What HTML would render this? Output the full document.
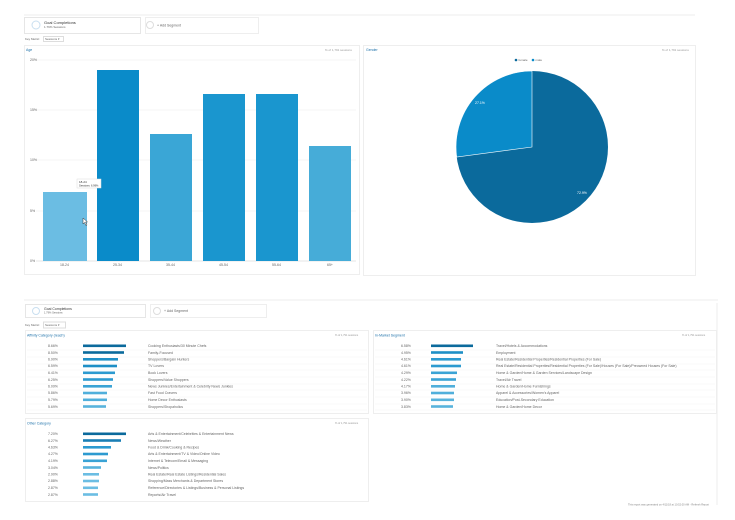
<!DOCTYPE html>
<html><head><meta charset="utf-8"><style>
html,body{margin:0;padding:0;background:#fff;width:735px;height:520px;overflow:hidden}
svg{display:block;font-family:"Liberation Sans",sans-serif}
text{fill:#666;font-size:3.5px}
</style></head><body>
<svg width="735" height="520" viewBox="0 0 735 520">
<!-- top section -->
<line x1="24" y1="15" x2="695" y2="15" stroke="#eee"/>
<rect x="24.5" y="17.5" width="116" height="16" fill="#fff" stroke="#e6e6e6"/>
<circle cx="36" cy="25" r="4" fill="none" stroke="#c9dff0"/>
<text x="44" y="24" style="fill:#333;font-size:4px">Goal Completions</text>
<text x="44" y="28" style="font-size:3px">1.79% Sessions</text>
<rect x="145.5" y="17.5" width="113" height="16" fill="#fff" stroke="#eee"/>
<circle cx="150" cy="25" r="3.5" fill="none" stroke="#ddd"/>
<text x="157" y="26.5">+ Add Segment</text>
<text x="25" y="40" style="font-size:3px">Key Metric:</text>
<rect x="43.5" y="36.5" width="20" height="5" fill="#fff" stroke="#ddd"/>
<text x="45" y="40" style="font-size:3px">Sessions ▾</text>
<!-- bar panel -->
<rect x="24.5" y="45.5" width="335" height="229" fill="#fff" stroke="#eee"/>
<text x="26" y="51" style="fill:#1a6fa8">Age</text>
<text x="325" y="51" style="font-size:3px;fill:#999">% of 1,791 sessions</text>
<g stroke="#eee" stroke-width="0.6">
<line x1="36" y1="60" x2="356" y2="60"/><line x1="36" y1="110" x2="356" y2="110"/>
<line x1="36" y1="160" x2="356" y2="160"/><line x1="36" y1="211" x2="356" y2="211"/>
</g>
<line x1="36" y1="261" x2="356" y2="261" stroke="#ccc" stroke-width="0.6"/>
<g style="font-size:3px"><text x="30" y="61">20%</text><text x="30" y="111">15%</text><text x="30" y="161">10%</text><text x="30" y="212">5%</text><text x="30" y="262">0%</text></g>
<rect x="43" y="192" width="44" height="69" fill="#6bbde3"/>
<rect x="97" y="70" width="42" height="191" fill="#0a8bc9"/>
<rect x="150" y="134" width="42" height="127" fill="#3aa6d6"/>
<rect x="203" y="94" width="42" height="167" fill="#1a96cf"/>
<rect x="256" y="94" width="42" height="167" fill="#1a96cf"/>
<rect x="309" y="146" width="42" height="115" fill="#46acd8"/>
<g style="font-size:3px"><text x="60" y="266">18-24</text><text x="113" y="266">25-34</text><text x="166" y="266">35-44</text><text x="219" y="266">45-54</text><text x="272" y="266">55-64</text><text x="327" y="266">65+</text></g>
<rect x="77" y="179" width="24" height="9" fill="#fff" stroke="#ddd" stroke-width="0.5"/>
<text x="79" y="183" style="font-size:3px;fill:#333">18-24</text>
<text x="79" y="186.5" style="font-size:2.6px;fill:#333">Sessions: 6.99%</text>
<path d="M83 218 l0 6 l1.5 -1.5 l1.5 3 l1 -0.5 l-1.5 -3 l2 0 z" fill="#fff" stroke="#333" stroke-width="0.5"/>
<!-- pie panel -->
<rect x="363.5" y="45.5" width="332" height="230" fill="#fff" stroke="#eee"/>
<text x="366" y="51" style="fill:#1a6fa8">Gender</text>
<text x="662" y="51" style="font-size:3px;fill:#999">% of 1,791 sessions</text>
<circle cx="516" cy="60" r="1.3" fill="#0b6a9c"/><text x="518.5" y="61.2" style="font-size:3px">female</text>
<circle cx="533" cy="60" r="1.3" fill="#0a8bc9"/><text x="535.5" y="61.2" style="font-size:3px">male</text>
<circle cx="532" cy="147" r="76" fill="#0b6a9c"/>
<path d="M532 147 L532 71 A76 76 0 0 0 456.7 157.1 Z" fill="#0a8bc9" stroke="#fff" stroke-width="0.6"/>
<text x="475" y="104" style="fill:#fff;font-size:3.5px">27.1%</text>
<text x="577" y="194" style="fill:#fff;font-size:3.5px">72.9%</text>
<!-- bottom section -->
<line x1="24" y1="300" x2="718" y2="300" stroke="#eee"/>
<line x1="717" y1="303" x2="717" y2="505" stroke="#eee"/>
<rect x="25.5" y="304.5" width="120" height="13" fill="#fff" stroke="#e6e6e6"/>
<circle cx="36" cy="311" r="3.5" fill="none" stroke="#c9dff0"/>
<text x="44" y="310" style="fill:#333;font-size:3.5px">Goal Completions</text>
<text x="44" y="313.5" style="font-size:2.6px">1.79% Sessions</text>
<rect x="150.5" y="304.5" width="116" height="13" fill="#fff" stroke="#eee"/>
<circle cx="157" cy="311" r="3.5" fill="none" stroke="#ddd"/>
<text x="164" y="312">+ Add Segment</text>
<text x="25" y="326" style="font-size:3px">Key Metric:</text>
<rect x="43.5" y="322" width="22" height="6" fill="#fff" stroke="#ddd"/>
<text x="45" y="326" style="font-size:3px">Sessions ▾</text>
<rect x="25.5" y="330.5" width="343" height="83" fill="#fff" stroke="#eee"/>
<text x="27" y="336.5" style="fill:#1a6fa8">Affinity Category (reach)</text>
<text x="335" y="336" style="font-size:2.6px;fill:#999">% of 1,791 sessions</text>
<rect x="373.5" y="330.5" width="343" height="83" fill="#fff" stroke="#eee"/>
<text x="375" y="336.5" style="fill:#1a6fa8">In-Market Segment</text>
<text x="682" y="336" style="font-size:2.6px;fill:#999">% of 1,791 sessions</text>
<rect x="25.5" y="418.5" width="343" height="83" fill="#fff" stroke="#eee"/>
<text x="27" y="424.5" style="fill:#1a6fa8">Other Category</text>
<text x="335" y="424" style="font-size:2.6px;fill:#999">% of 1,791 sessions</text>
<g style="font-size:3px">
<!-- affinity -->
<g>
<text x="48" y="347">8.66%</text><rect x="83" y="344.5" width="43" height="2.6" fill="#0b6a9c"/><text x="148" y="347">Cooking Enthusiasts/30 Minute Chefs</text>
<text x="48" y="354">8.50%</text><rect x="83" y="351.2" width="41" height="2.6" fill="#0b6a9c"/><text x="148" y="354">Family-Focused</text>
<text x="48" y="360.5">6.90%</text><rect x="83" y="358" width="35" height="2.6" fill="#1e8fc6"/><text x="148" y="360.5">Shoppers/Bargain Hunters</text>
<text x="48" y="367">6.59%</text><rect x="83" y="364.7" width="34" height="2.6" fill="#1e8fc6"/><text x="148" y="367">TV Lovers</text>
<text x="48" y="374">6.41%</text><rect x="83" y="371.5" width="32" height="2.6" fill="#2c9ad0"/><text x="148" y="374">Book Lovers</text>
<text x="48" y="381">6.25%</text><rect x="83" y="378.2" width="30" height="2.6" fill="#2c9ad0"/><text x="148" y="381">Shoppers/Value Shoppers</text>
<text x="48" y="387.5">6.09%</text><rect x="83" y="385" width="29" height="2.6" fill="#3aa3d5"/><text x="148" y="387.5">News Junkies/Entertainment &amp; Celebrity News Junkies</text>
<text x="48" y="394">5.86%</text><rect x="83" y="391.7" width="24" height="2.6" fill="#50afdb"/><text x="148" y="394">Fast Food Cravers</text>
<text x="48" y="401">5.79%</text><rect x="83" y="398.5" width="24" height="2.6" fill="#50afdb"/><text x="148" y="401">Home Decor Enthusiasts</text>
<text x="48" y="408">5.69%</text><rect x="83" y="405.2" width="23" height="2.6" fill="#58b3dc"/><text x="148" y="408">Shoppers/Shopaholics</text>
</g>
<!-- in-market -->
<g>
<text x="401" y="347">6.58%</text><rect x="431" y="344.5" width="42" height="2.6" fill="#0b6a9c"/><text x="496" y="347">Travel/Hotels &amp; Accommodations</text>
<text x="401" y="354">4.95%</text><rect x="431" y="351.2" width="32" height="2.6" fill="#1e8fc6"/><text x="496" y="354">Employment</text>
<text x="401" y="360.5">4.61%</text><rect x="431" y="358" width="30" height="2.6" fill="#2c9ad0"/><text x="496" y="360.5">Real Estate/Residential Properties/Residential Properties (For Sale)</text>
<text x="401" y="367">4.61%</text><rect x="431" y="364.7" width="30" height="2.6" fill="#2c9ad0"/><text x="496" y="367">Real Estate/Residential Properties/Residential Properties (For Sale)/Houses (For Sale)/Preowned Houses (For Sale)</text>
<text x="401" y="374">4.29%</text><rect x="431" y="371.5" width="26" height="2.6" fill="#3aa3d5"/><text x="496" y="374">Home &amp; Garden/Home &amp; Garden Services/Landscape Design</text>
<text x="401" y="381">4.22%</text><rect x="431" y="378.2" width="25" height="2.6" fill="#3aa3d5"/><text x="496" y="381">Travel/Air Travel</text>
<text x="401" y="387.5">4.17%</text><rect x="431" y="385" width="24" height="2.6" fill="#50afdb"/><text x="496" y="387.5">Home &amp; Garden/Home Furnishings</text>
<text x="401" y="394">3.96%</text><rect x="431" y="391.7" width="23" height="2.6" fill="#50afdb"/><text x="496" y="394">Apparel &amp; Accessories/Women's Apparel</text>
<text x="401" y="401">3.90%</text><rect x="431" y="398.5" width="23" height="2.6" fill="#58b3dc"/><text x="496" y="401">Education/Post-Secondary Education</text>
<text x="401" y="408">3.83%</text><rect x="431" y="405.2" width="22" height="2.6" fill="#58b3dc"/><text x="496" y="408">Home &amp; Garden/Home Decor</text>
</g>
<!-- other -->
<g>
<text x="48" y="435">7.20%</text><rect x="83" y="432.5" width="43" height="2.6" fill="#0b6a9c"/><text x="148" y="435">Arts &amp; Entertainment/Celebrities &amp; Entertainment News</text>
<text x="48" y="442">6.27%</text><rect x="83" y="439.2" width="38" height="2.6" fill="#1a7fb5"/><text x="148" y="442">News/Weather</text>
<text x="48" y="448.5">4.63%</text><rect x="83" y="446" width="28" height="2.6" fill="#2c9ad0"/><text x="148" y="448.5">Food &amp; Drink/Cooking &amp; Recipes</text>
<text x="48" y="455">4.27%</text><rect x="83" y="452.7" width="25" height="2.6" fill="#2c9ad0"/><text x="148" y="455">Arts &amp; Entertainment/TV &amp; Video/Online Video</text>
<text x="48" y="462">4.19%</text><rect x="83" y="459.5" width="24" height="2.6" fill="#3aa3d5"/><text x="148" y="462">Internet &amp; Telecom/Email &amp; Messaging</text>
<text x="48" y="469">3.04%</text><rect x="83" y="466.2" width="18" height="2.6" fill="#58b3dc"/><text x="148" y="469">News/Politics</text>
<text x="48" y="475.5">2.90%</text><rect x="83" y="473" width="16" height="2.6" fill="#6bbde3"/><text x="148" y="475.5">Real Estate/Real Estate Listings/Residential Sales</text>
<text x="48" y="482">2.88%</text><rect x="83" y="479.7" width="16" height="2.6" fill="#6bbde3"/><text x="148" y="482">Shopping/Mass Merchants &amp; Department Stores</text>
<text x="48" y="489">2.87%</text><rect x="83" y="486.5" width="15" height="2.6" fill="#6bbde3"/><text x="148" y="489">Reference/Directories &amp; Listings/Business &amp; Personal Listings</text>
<text x="48" y="496">2.87%</text><rect x="83" y="493.2" width="15" height="2.6" fill="#6bbde3"/><text x="148" y="496">Reports/Air Travel</text>
</g>
</g>
<g stroke="#f2f2f2" stroke-width="0.4">
<line x1="27" y1="350" x2="367" y2="350"/><line x1="27" y1="357" x2="367" y2="357"/><line x1="27" y1="364" x2="367" y2="364"/><line x1="27" y1="370" x2="367" y2="370"/><line x1="27" y1="377" x2="367" y2="377"/><line x1="27" y1="384" x2="367" y2="384"/><line x1="27" y1="390" x2="367" y2="390"/><line x1="27" y1="397" x2="367" y2="397"/><line x1="27" y1="404" x2="367" y2="404"/><line x1="27" y1="410" x2="367" y2="410"/>
<line x1="375" y1="350" x2="715" y2="350"/><line x1="375" y1="357" x2="715" y2="357"/><line x1="375" y1="364" x2="715" y2="364"/><line x1="375" y1="370" x2="715" y2="370"/><line x1="375" y1="377" x2="715" y2="377"/><line x1="375" y1="384" x2="715" y2="384"/><line x1="375" y1="390" x2="715" y2="390"/><line x1="375" y1="397" x2="715" y2="397"/><line x1="375" y1="404" x2="715" y2="404"/><line x1="375" y1="410" x2="715" y2="410"/>
</g>
<text x="628" y="505.5" style="font-size:2.6px;fill:#888">This report was generated on 4/11/18 at 10:52:00 AM - Refresh Report</text>
</svg>
</body></html>
